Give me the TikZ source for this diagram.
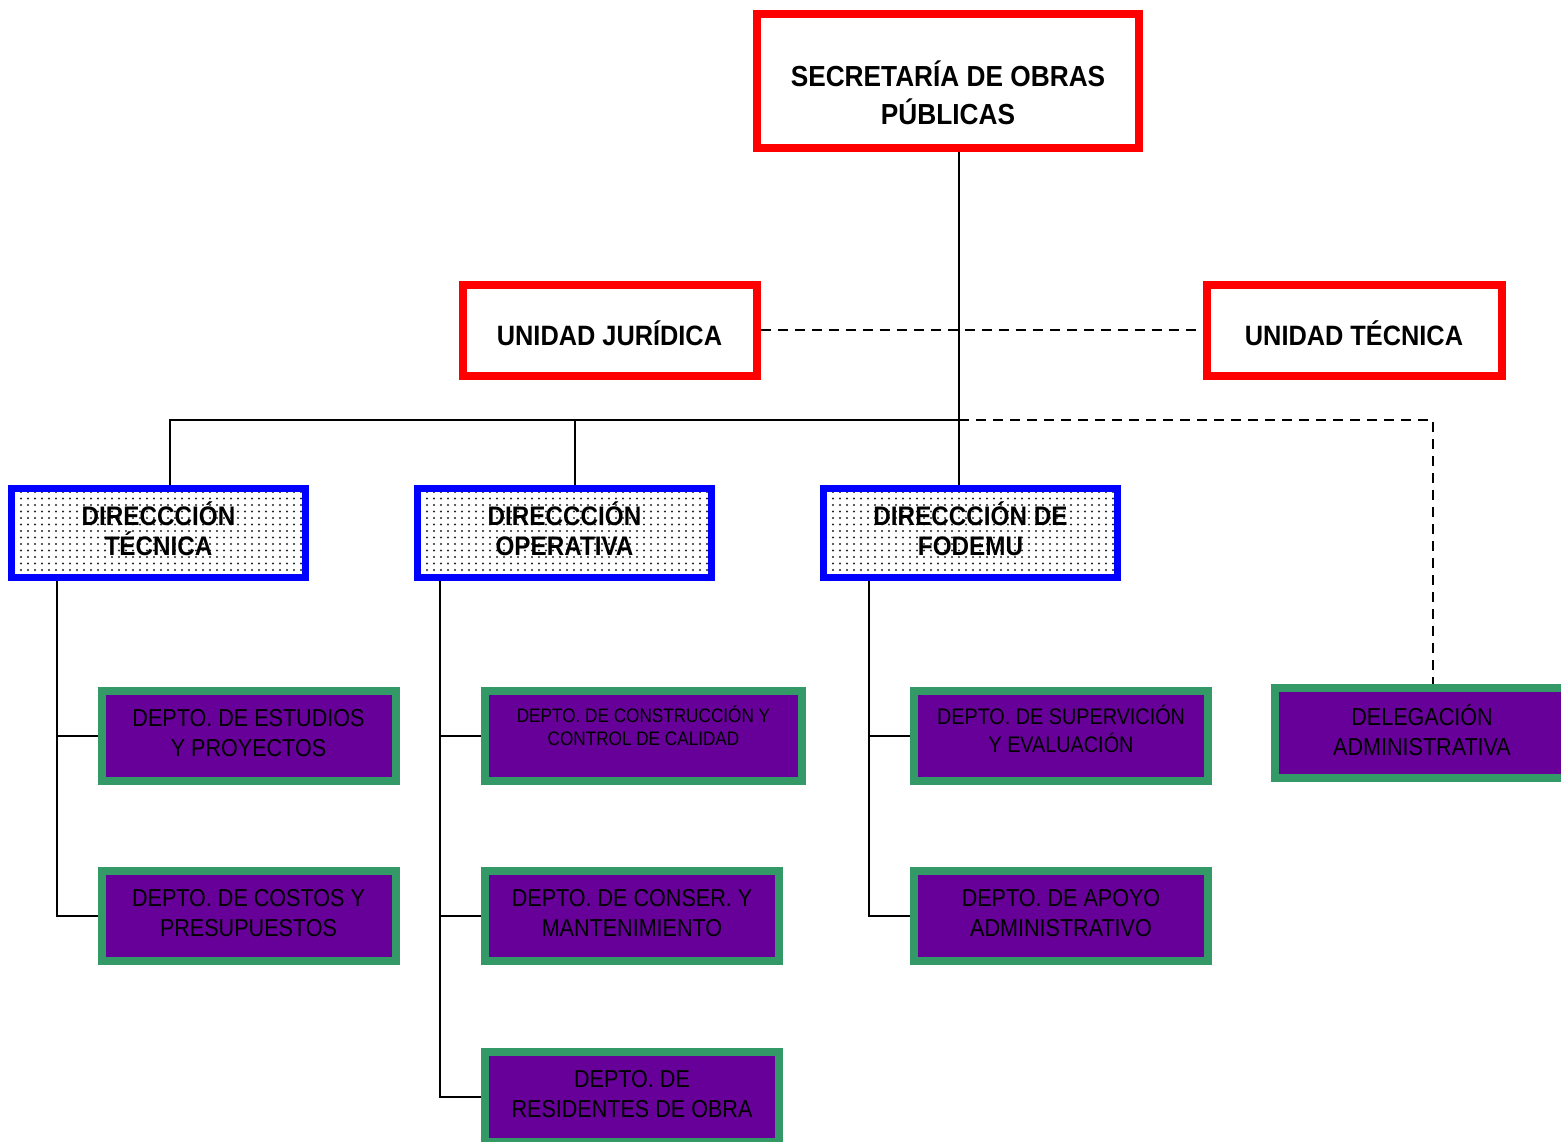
\documentclass[tikz,border=0pt]{standalone}
\usepackage{fontspec}
\setmainfont{Liberation Sans}
\newfontfamily\bfnt[FakeStretch=0.905]{Liberation Sans}
\newfontfamily\nfnt[FakeStretch=0.88]{Liberation Sans}
\usetikzlibrary{patterns}
\pgfdeclarepatternformonly{mydots}{\pgfqpoint{-1.5pt}{-1.5pt}}{\pgfqpoint{1.5pt}{1.5pt}}{\pgfqpoint{7pt}{6.5pt}}{\pgfpathcircle{\pgfqpoint{0pt}{0pt}}{1.1pt}\pgfusepath{fill}}
\definecolor{myred}{HTML}{FF0000}
\definecolor{myblue}{HTML}{0000FF}
\definecolor{mygreen}{HTML}{339966}
\definecolor{mypurple}{HTML}{660099}
\tikzset{
  redbox/.style={draw=myred, line width=8pt, fill=white, align=center, inner sep=0pt,
    text height=30pt, text depth=0pt,
    font=\bfnt\bfseries\fontsize{28}{38}\selectfont},
  dirbox/.style={draw=myblue, line width=7pt, preaction={fill=white}, pattern=mydots, pattern color=black!85,
    minimum width=294pt, minimum height=89pt, align=center, inner sep=0pt,
    text height=44pt, text depth=0pt,
    font=\bfnt\bfseries\fontsize{26.8}{30}\selectfont},
  deptbox/.style={draw=mygreen, line width=8pt, fill=mypurple, text=black,
    minimum width=294pt, minimum height=90pt, align=center, inner sep=0pt,
    text height=41pt, text depth=0pt,
    font=\nfnt\fontsize{24.5}{30}\selectfont},
  conn/.style={line width=1.8pt, black},
  dconn/.style={line width=2pt, black, dash pattern=on 10pt off 7pt},
}
\begin{document}
\begin{tikzpicture}[x=1pt,y=-1pt]
\useasboundingbox (0,0) rectangle (1561,1142);
\coordinate (j1) at (959,420);
\coordinate (jt) at (170,420);
\coordinate (jo) at (575,420);
\coordinate (vt) at (57,600);
\coordinate (vo) at (440,600);
\coordinate (vf) at (869,600);
\coordinate (jd) at (1433,420);

\node[redbox, minimum width=382pt, minimum height=134pt, text height=88pt,
  font=\bfnt\bfseries\fontsize{29}{38}\selectfont] (sec) at (948,81) {SECRETARÍA DE OBRAS\\PÚBLICAS};
\node[redbox, minimum width=294pt, minimum height=91pt] (jur) at (609.5,330) {UNIDAD JURÍDICA};
\node[redbox, minimum width=295pt, minimum height=91pt] (tec) at (1354,330) {UNIDAD TÉCNICA};

\node[dirbox] (dt) at (158.5,533) {DIRECCCIÓN\\TÉCNICA};
\node[dirbox] (dop) at (564.5,533) {DIRECCCIÓN\\OPERATIVA};
\node[dirbox] (fod) at (970.5,533) {DIRECCCIÓN DE\\FODEMU};

\node[deptbox] (est) at (248.5,736) {DEPTO. DE ESTUDIOS\\Y PROYECTOS};
\node[deptbox] (cos) at (248.5,916) {DEPTO. DE COSTOS Y\\PRESUPUESTOS};
\node[deptbox, minimum width=317pt, font=\nfnt\fontsize{19.5}{23}\selectfont,
  text height=18pt] (con) at (643.5,736) {DEPTO. DE CONSTRUCCIÓN Y\\CONTROL DE CALIDAD};
\node[deptbox] (cns) at (632,916) {DEPTO. DE CONSER. Y\\MANTENIMIENTO};
\node[deptbox] (res) at (632,1097) {DEPTO. DE\\RESIDENTES DE OBRA};
\node[deptbox, font=\nfnt\fontsize{22.5}{28}\selectfont, text height=32pt] (sup) at (1061,736) {DEPTO. DE SUPERVICIÓN\\Y EVALUACIÓN};
\node[deptbox] (apo) at (1061,916) {DEPTO. DE APOYO\\ADMINISTRATIVO};
\node[deptbox, text height=44pt] (del) at (1422,733) {DELEGACIÓN\\ADMINISTRATIVA};

\draw[conn] (sec.south -| j1) -- (fod.north -| j1);
\draw[conn] (j1) -- (jt) -- (jt |- dt.north);
\draw[conn] (jo) -- (jo |- dop.north);
\draw[dconn] (jur.east) -- (tec.west);
\draw[dconn] (j1) -- (jd) -- (jd |- del.north);

\draw[conn] (dt.south -| vt) -- (vt |- cos.west) -- (cos.west);
\draw[conn] (vt |- est.west) -- (est.west);
\draw[conn] (dop.south -| vo) -- (vo |- res.west) -- (res.west);
\draw[conn] (vo |- con.west) -- (con.west);
\draw[conn] (vo |- cns.west) -- (cns.west);
\draw[conn] (fod.south -| vf) -- (vf |- apo.west) -- (apo.west);
\draw[conn] (vf |- sup.west) -- (sup.west);
\end{tikzpicture}
\end{document}
